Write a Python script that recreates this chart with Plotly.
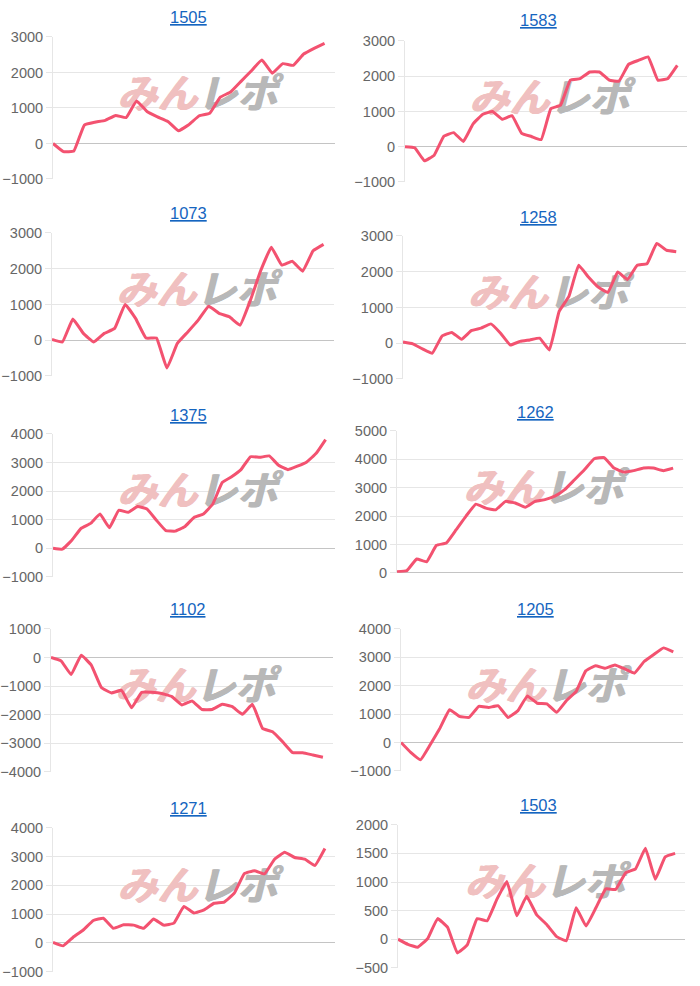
import plotly.graph_objects as go

titles = ["1505", "1583", "1073", "1258", "1375", "1262", "1102", "1205", "1271", "1503"]

v1505 = [0, -230, -210, 520, 600, 650, 790, 730, 1200, 900, 750, 620, 360, 530, 780, 850,
         1300, 1450, 1750, 2050, 2350, 1980, 2250, 2200, 2520, 2680, 2820]
v1583 = [0, -30, -400, -240, 300, 400, 150, 650, 920, 1000, 780, 880, 380, 290, 200, 1080,
         1180, 1890, 1930, 2120, 2120, 1890, 1860, 2340, 2450, 2550, 1890, 1930, 2310]
v1073 = [20, -50, 590, 190, -50, 190, 330, 1000, 610, 60, 60, -780, -90, 230, 560, 950,
         750, 650, 420, 1120, 1960, 2600, 2100, 2210, 1930, 2500, 2680]
v1258 = [30, -20, -160, -280, 200, 300, 110, 350, 420, 540, 280, -50, 50, 90, 140, -190,
         890, 1310, 2180, 1850, 1570, 1420, 1990, 1780, 2180, 2220, 2790, 2600, 2560]
v1375 = [0, -30, 280, 700, 870, 1200, 720, 1330, 1260, 1460, 1370, 980, 620, 600, 750, 1080,
         1200, 1550, 2300, 2500, 2750, 3200, 3180, 3230, 2900, 2750, 2870, 3020, 3320, 3800]
v1262 = [40, 80, 490, 390, 970, 1050, 1520, 2000, 2420, 2280, 2220, 2520, 2460, 2310, 2520,
         2580, 2700, 2930, 3280, 3630, 4020, 4060, 3690, 3550, 3600, 3690, 3690, 3600, 3690]
v1102 = [0, -120, -600, 80, -270, -1050, -1240, -1150, -1760, -1220, -1220, -1260, -1370,
         -1660, -1520, -1820, -1820, -1640, -1720, -1990, -1640, -2480, -2600, -2950, -3330,
         -3330, -3410, -3490]
v1205 = [0, -350, -610, -80, 500, 1150, 920, 880, 1270, 1230, 1290, 880, 1110, 1640, 1380,
         1360, 1060, 1470, 1790, 2520, 2700, 2610, 2730, 2590, 2440, 2850, 3100, 3330, 3190]
v1271 = [20, -100, 200, 450, 780, 860, 510, 630, 620, 510, 830, 620, 690, 1270, 1040, 1150,
         1380, 1420, 1730, 2410, 2510, 2400, 2910, 3150, 2970, 2910, 2690, 3280]
v1503 = [0, -90, -140, 10, 360, 210, -240, -100, 360, 320, 700, 1010, 410, 750, 430, 260,
         50, -30, 550, 230, 550, 880, 870, 1160, 1230, 1590, 1050, 1440, 1500]

series = [v1505, v1583, v1073, v1258, v1375, v1262, v1102, v1205, v1271, v1503]

y_ranges = [(-1000, 3000), (-1000, 3000), (-1000, 3000), (-1000, 3000), (-1000, 4000),
            (0, 5000), (-4000, 1000), (-1000, 4000), (-1000, 4000), (-500, 2000)]
y_dticks = [1000, 1000, 1000, 1000, 1000, 1000, 1000, 1000, 1000, 500]

# plot-area boxes in pixels: (left, right, top, bottom)
boxes = [(53, 335, 37, 179), (405, 687, 41, 182),
         (52, 334, 233, 376), (403, 686, 236, 379),
         (53, 335, 434, 577), (397, 683, 431, 573),
         (51, 333, 629, 772), (401, 683, 629, 771),
         (53, 335, 828, 972), (398, 685, 825, 968)]
title_pos = [(188, 17), (538, 20), (188, 213), (538, 217), (188, 415),
             (535, 412), (187, 609), (535, 609), (188, 808), (538, 805)]

W, H = 700, 986
LINE = "rgb(243,82,112)"
PINK = "rgb(240,192,192)"
GREY = "rgb(184,184,184)"
GRID = "#e6e6e6"


def py(y):
    # page pixel -> paper fraction (compensates the page's vertical offset/scale)
    return 1 - ((y - 8) / 0.984) / H


fig = go.Figure()
annotations = []
layout_axes = {}
for i, (t, vals) in enumerate(zip(titles, series)):
    k = i + 1
    xa = "x" if k == 1 else f"x{k}"
    ya = "y" if k == 1 else f"y{k}"
    l, r, tp, b = boxes[i]
    n = len(vals)
    lo, hi = y_ranges[i]
    # watermark (behind the line), drawn a few times with tiny offsets for a heavier look
    wx = n * 0.51
    wy = lo + (hi - lo) * 0.57
    upx = n / (r - l)
    for d in (0.0, 0.7, 1.4):
        fig.add_trace(go.Scatter(x=[wx + d * upx], y=[wy], mode="text", text=["みん"],
                                 textposition="middle left", xaxis=xa, yaxis=ya,
                                 textfont=dict(family="Noto Sans CJK JP", size=40,
                                               color=PINK, weight="bold", style="italic"),
                                 hoverinfo="skip", showlegend=False))
        fig.add_trace(go.Scatter(x=[wx + d * upx], y=[wy], mode="text", text=["レポ"],
                                 textposition="middle right", xaxis=xa, yaxis=ya,
                                 textfont=dict(family="Noto Sans CJK JP", size=40,
                                               color=GREY, weight="bold", style="italic"),
                                 hoverinfo="skip", showlegend=False))
    fig.add_trace(go.Scatter(x=list(range(n)), y=vals, mode="lines", xaxis=xa, yaxis=ya,
                             line=dict(color=LINE, width=3, shape="spline", smoothing=0.3),
                             hoverinfo="skip", showlegend=False))
    kx = "xaxis" if k == 1 else f"xaxis{k}"
    ky = "yaxis" if k == 1 else f"yaxis{k}"
    layout_axes[kx] = dict(domain=[l / W, r / W], range=[0, n], anchor=ya,
                           showgrid=False, showticklabels=False, zeroline=False,
                           showline=False, fixedrange=True)
    layout_axes[ky] = dict(domain=[py(b), py(tp)], range=[lo, hi], anchor=xa,
                           dtick=y_dticks[i], tick0=0, showgrid=True, gridcolor=GRID,
                           gridwidth=1, zeroline=True, zerolinecolor="#c4c4c4",
                           zerolinewidth=1, showline=True, linecolor=GRID,
                           linewidth=1, ticks="outside", ticklen=6, tickcolor=GRID,
                           tickwidth=1,
                           tickfont=dict(color="#666666", size=14.5,
                                         family="Liberation Sans, Arial, sans-serif"),
                           fixedrange=True)
    tx, ty = title_pos[i]
    annotations.append(dict(text=t, x=tx / W, y=py(ty), xref="paper", yref="paper",
                            showarrow=False, xanchor="center", yanchor="middle",
                            font=dict(color="#1565c0", size=16.5,
                                      family="Liberation Sans, Arial, sans-serif",
                                      lineposition="under")))

fig.update_layout(width=W, height=H, margin=dict(l=0, r=0, t=0, b=0),
                  paper_bgcolor="white", plot_bgcolor="white",
                  annotations=annotations, **layout_axes)
fig.write_html("out.html")
